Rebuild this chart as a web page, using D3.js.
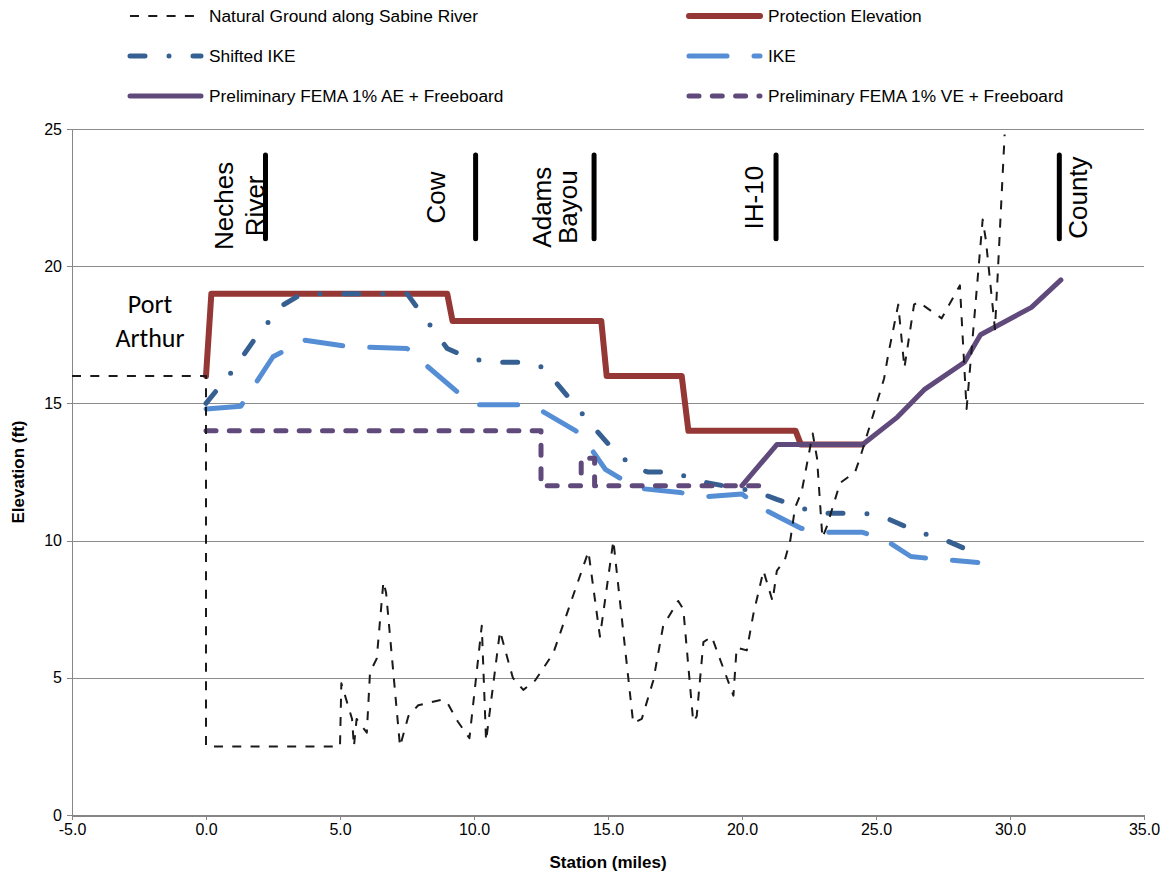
<!DOCTYPE html>
<html>
<head>
<meta charset="utf-8">
<script src="https://d3js.org/d3.v7.min.js"></script>
<style>
  body { margin: 0; background: #fff; }
  text { font-family: "Liberation Sans", Arial, sans-serif; fill: #000; }
  .grid line { stroke: #8c8c8c; stroke-width: 1; shape-rendering: crispEdges; }
  .grid path { stroke-width: 0; }
  .axis path, .axis line { fill: none; stroke: #868686; shape-rendering: crispEdges; }
  .axis text { font-size: 16px; fill: #000; }
  .legend text { font-size: 17.3px; }
  .title { font-size: 17px; font-weight: bold; }
  .marker text { font-size: 26px; }
</style>
</head>
<body>
<svg id="chart" width="1166" height="878"></svg>
<script>
// station (miles), elevation (ft)
var naturalGround = [[-5,16],[0,16],[0,2.5],[5.0,2.5],[5.05,4.8],[5.45,3.5],[5.52,2.5],[5.62,3.5],[6.0,3.0],[6.12,5.2],
  [6.37,5.7],[6.62,8.5],[6.72,8.1],[7.1,4.0],[7.24,2.5],[7.55,3.6],[7.92,4.0],[8.8,4.2],[9.0,4.1],[9.4,3.4],[9.83,2.8],
  [10.29,6.9],[10.45,2.7],[10.97,6.7],[11.45,5.0],[11.84,4.56],[12.28,4.9],[12.96,5.9],[13.7,8.0],[14.27,9.6],[14.7,6.5],
  [15.2,10.0],[15.94,3.35],[16.26,3.5],[16.69,4.9],[17.06,6.9],[17.62,7.8],[17.81,7.5],[18.18,3.4],[18.31,3.6],[18.56,6.3],
  [18.87,6.5],[19.68,4.35],[19.8,6.1],[20.18,6.0],[20.42,7.3],[20.8,8.9],[21.14,7.8],[21.3,8.9],[21.6,9.3],[21.8,10.0],
  [21.98,11.2],[22.23,11.8],[22.64,13.9],[22.8,13.0],[23.0,10.1],[23.16,10.5],[23.66,12.1],[24.22,12.5],[24.4,13.0],
  [24.9,14.6],[25.3,15.9],[25.46,16.8],[25.83,18.6],[26.06,16.3],[26.42,18.6],[26.58,18.7],[27.45,18.1],[28.13,19.3],
  [28.38,14.8],[28.98,21.7],[29.1,20.95],[29.44,17.7],[29.8,24.8]];
var protectionElev = [[0,16],[0.2,19],[9.0,19],[9.2,18],[14.75,18],[14.95,16],[17.75,16],[18.0,14],[22.0,14],[22.2,13.5],[24.5,13.5]];
var shiftedIke = [[0,15],[1,16.2],[2,17.6],[2.9,18.6],[3.6,19],[7.5,19],[9,17],[9.7,16.7],[10.5,16.5],[12,16.5],[12.6,16.3],
  [13.2,15.6],[14.4,14.2],[15.3,13.2],[16.1,12.6],[16.5,12.5],[17.5,12.5],[18.2,12.2],[19.3,12.0],[20.5,11.8],[21.3,11.5],
  [22.8,11.0],[24.5,11.0],[25.2,10.9],[26.6,10.3],[27.4,10.1],[28.8,9.5]];
var ike = [[0,14.8],[1.3,14.9],[1.9,15.8],[2.5,16.7],[3.0,16.95],[3.7,17.3],[5.3,17.07],[7.5,17.0],[8.2,16.4],[9.4,15.4],
  [10.1,14.95],[11.7,14.95],[12.4,14.8],[13.8,14.0],[14.4,13.3],[14.9,12.6],[15.4,12.3],[16.2,11.9],[17.7,11.75],[18.6,11.6],
  [20.0,11.7],[20.7,11.2],[21.3,10.9],[22.2,10.45],[23,10.3],[24.5,10.3],[25.3,10.05],[26.3,9.42],[26.7,9.38],[28.8,9.2]];
var femaAE = [[20,12],[21.3,13.5],[24.5,13.5],[25.8,14.5],[26.8,15.5],[28.3,16.5],[28.9,17.5],[30.8,18.5],[31.9,19.5]];
var femaVE = [[0,14],[12.5,14],[12.5,12],[14.0,12],[14.0,13],[14.5,13],[14.5,12],[21,12]];

var xTicks = [-5, 0, 5, 10, 15, 20, 25, 30, 35];
var yTicks = [0, 5, 10, 15, 20, 25];

// crossing markers along the route
var markerNames = [["Neches", "River"], ["Cow"], ["Adams", "Bayou"], ["IH-10"], ["County"]];
var markerStations = [2.22, 10.06, 14.48, 21.27, 31.84];
var markerLabelStations = [[1.02, 2.15], [8.92], [12.87, 13.84], [20.8], [32.87]];
var markerLabelElev = [22.2, 22.5, 22.15, 22.5, 22.5];
var markerTop = 24.05, markerBottom = 21.0;

var svg = d3.select("#chart");
var margin = {top: 129, right: 22, bottom: 63, left: 72},
    width = 1166 - margin.left - margin.right,
    height = 878 - margin.top - margin.bottom;

var x = d3.scaleLinear().domain([-5, 35]).range([0, width]);
var y = d3.scaleLinear().domain([0, 25]).range([height, 0]);

var g = svg.append("g").attr("transform", "translate(" + margin.left + "," + margin.top + ")");

// horizontal gridlines
g.append("g")
    .attr("class", "grid")
    .call(d3.axisLeft(y).tickValues(yTicks.slice(1)).tickSize(-width).tickFormat(""));

// axes
g.append("g")
    .attr("class", "axis")
    .call(d3.axisLeft(y).tickValues(yTicks).tickSize(5).tickPadding(5).tickSizeOuter(0));

var xAxis = g.append("g")
    .attr("class", "axis")
    .attr("transform", "translate(0," + height + ")")
    .call(d3.axisBottom(x).tickValues(xTicks).tickSize(5).tickPadding(4).tickSizeOuter(0)
        .tickFormat(function(d) { return d.toFixed(1); }));
xAxis.select(".domain").attr("stroke-width", 2);

// series
var series = [
    {name: "Protection Elevation", data: protectionElev, color: "#953735", width: 6, dash: null},
    {name: "Shifted IKE", data: shiftedIke, color: "#376092", width: 5, dash: "15,24,0,24"},
    {name: "IKE", data: ike, color: "#558ed5", width: 5, dash: "38,27"},
    {name: "Preliminary FEMA 1% VE + Freeboard", data: femaVE, color: "#604a7b", width: 5, dash: "10,13.3"},
    {name: "Preliminary FEMA 1% AE + Freeboard", data: femaAE, color: "#604a7b", width: 5, dash: null},
    {name: "Natural Ground along Sabine River", data: naturalGround, color: "#1a1a1a", width: 2, dash: "9,9.3"}
];

var line = d3.line()
    .x(function(d) { return x(d[0]); })
    .y(function(d) { return y(d[1]); });

series.forEach(function(s) {
    g.append("path")
        .datum(s.data)
        .attr("fill", "none")
        .attr("stroke", s.color)
        .attr("stroke-width", s.width)
        .attr("stroke-linejoin", "round")
        .attr("stroke-linecap", s.width > 2 ? "round" : "butt")
        .attr("stroke-dasharray", s.dash)
        .attr("d", line);
});

// markers and their labels
var marker = g.append("g").attr("class", "marker");
markerStations.forEach(function(st, i) {
    marker.append("line")
        .attr("x1", x(st)).attr("x2", x(st))
        .attr("y1", y(markerTop)).attr("y2", y(markerBottom))
        .attr("stroke", "#000")
        .attr("stroke-width", 5)
        .attr("stroke-linecap", "round");
    markerNames[i].forEach(function(txt, j) {
        marker.append("text")
            .attr("transform", "translate(" + x(markerLabelStations[i][j]) + "," + y(markerLabelElev[i]) + ") rotate(-90)")
            .style("text-anchor", "middle")
            .text(txt);
    });
});

// Port Arthur label
svg.append("text")
    .attr("x", 150).attr("y", 313)
    .style("text-anchor", "middle")
    .style("font-family", "Carlito, Lato, sans-serif")
    .style("font-size", "26px")
    .text("Port");
svg.append("text")
    .attr("x", 150).attr("y", 347)
    .style("text-anchor", "middle")
    .style("font-family", "Carlito, Lato, sans-serif")
    .style("font-size", "26px")
    .text("Arthur");

// axis titles
svg.append("text")
    .attr("class", "title")
    .attr("x", margin.left + width / 2)
    .attr("y", 868)
    .style("text-anchor", "middle")
    .text("Station (miles)");

svg.append("text")
    .attr("class", "title")
    .attr("transform", "translate(24," + (margin.top + height / 2) + ") rotate(-90)")
    .style("text-anchor", "middle")
    .text("Elevation (ft)");

// legend (two columns, row-wise)
var legendOrder = [5, 0, 1, 2, 4, 3];
var legend = svg.append("g").attr("class", "legend");
legendOrder.forEach(function(si, k) {
    var s = series[si];
    var col = k % 2, row = Math.floor(k / 2);
    var lx = col === 0 ? 130 : 689;
    var ly = 16 + row * 40;
    legend.append("line")
        .attr("x1", lx).attr("x2", lx + 71)
        .attr("y1", ly).attr("y2", ly)
        .attr("stroke", s.color)
        .attr("stroke-width", s.width)
        .attr("stroke-linecap", s.width > 2 ? "round" : "butt")
        .attr("stroke-dasharray", s.dash);
    legend.append("text")
        .attr("x", lx + 79)
        .attr("y", ly)
        .attr("dy", "0.35em")
        .text(s.name);
});
</script>
</body>
</html>
